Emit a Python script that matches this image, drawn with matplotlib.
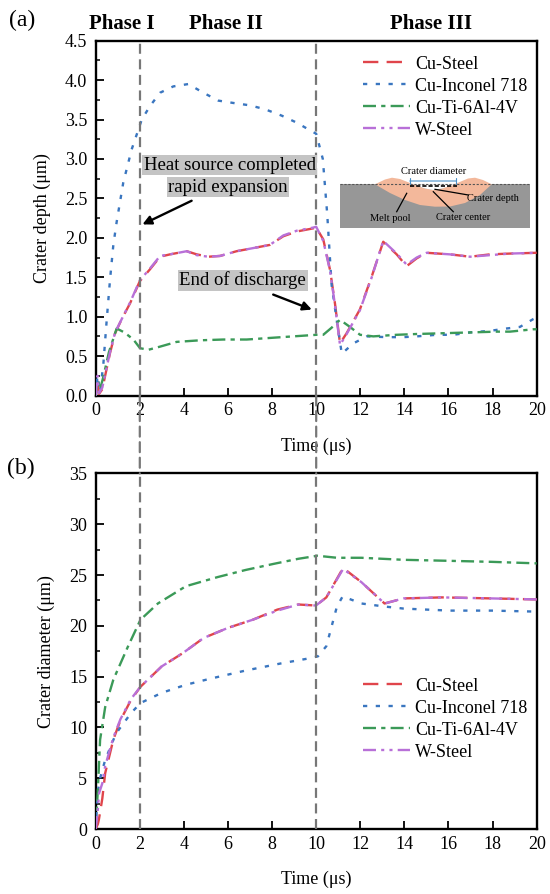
import numpy as np
import matplotlib
matplotlib.use("Agg")
import matplotlib.pyplot as plt
from matplotlib.patches import ConnectionPatch, Rectangle, Polygon
from matplotlib.ticker import MultipleLocator

plt.rcParams['font.family'] = ['Liberation Serif', 'DejaVu Serif']

# ---- (a) crater depth (um) ----
cs_t = [0, 0.08, 0.15, 0.3, 0.42, 0.65, 0.88, 1.2, 1.56, 2.0, 2.46, 2.92, 3.37, 4.13, 4.58, 5.11,
        5.64, 6.39, 7.15, 7.9, 8.51, 9.12, 9.87, 10.0, 10.32, 10.63, 10.85, 11.08, 11.38, 11.98,
        12.52, 13.04, 13.65, 14.1, 14.56, 15.01, 16.07, 16.98, 17.88, 18.79, 20.0]
cs_depth = [0, 0.22, 0.02, 0.08, 0.24, 0.54, 0.79, 0.98, 1.17, 1.45, 1.6, 1.76, 1.79, 1.83, 1.79,
            1.76, 1.77, 1.83, 1.87, 1.91, 2.02, 2.08, 2.12, 2.13, 1.98, 1.59, 1.17, 0.66, 0.79,
            1.09, 1.51, 1.95, 1.79, 1.64, 1.74, 1.81, 1.79, 1.76, 1.79, 1.80, 1.81]
ws_depth = [0, 0.25, 0.03, 0.1, 0.26, 0.55, 0.8, 0.98, 1.18, 1.46, 1.61, 1.77, 1.79, 1.83, 1.78,
            1.76, 1.77, 1.83, 1.87, 1.91, 2.03, 2.09, 2.13, 2.14, 1.96, 1.58, 1.15, 0.64, 0.78,
            1.08, 1.5, 1.96, 1.8, 1.66, 1.75, 1.81, 1.79, 1.76, 1.78, 1.80, 1.81]

ci_t = [0, 0.08, 0.2, 0.35, 0.5, 0.65, 0.8, 0.95, 1.25, 1.63, 1.86, 2.09, 2.46, 2.92, 3.52, 4.2,
        4.88, 5.56, 6.24, 6.99, 7.68, 8.43, 9.12, 9.8, 10.0, 10.3, 10.5, 10.7, 10.93, 11.16,
        11.68, 12.29, 13.2, 13.95, 14.56, 15.47, 16.22, 16.98, 17.88, 18.64, 19.24, 19.85, 20.0]
ci_depth = [0, 0.25, 0.05, 0.41, 0.96, 1.47, 1.91, 2.2, 2.7, 3.12, 3.31, 3.5, 3.67, 3.84, 3.92,
            3.95, 3.84, 3.74, 3.71, 3.68, 3.63, 3.55, 3.46, 3.35, 3.32, 3.0, 2.3, 1.4, 0.96, 0.53,
            0.66, 0.75, 0.74, 0.74, 0.75, 0.77, 0.77, 0.80, 0.82, 0.85, 0.87, 0.97, 0.99]

ct_t = [0, 0.08, 0.2, 0.35, 0.6, 0.95, 1.3, 1.71, 2.01, 2.39, 2.92, 3.67, 4.73, 5.79, 6.85, 7.9,
        8.96, 10.02, 10.32, 10.7, 11.08, 11.53, 11.99, 12.59, 13.65, 14.56, 15.77, 16.98, 18.19,
        18.79, 19.85, 20.0]
ct_depth = [0, 0.2, 0.08, 0.24, 0.55, 0.85, 0.80, 0.71, 0.60, 0.58, 0.62, 0.68, 0.70, 0.71, 0.71,
            0.73, 0.75, 0.77, 0.77, 0.86, 0.96, 0.87, 0.77, 0.75, 0.77, 0.78, 0.79, 0.80, 0.81,
            0.81, 0.84, 0.84]

# ---- (b) crater diameter (um) ----
cs_tb = [0, 0.1, 0.15, 0.3, 0.43, 0.8, 1.12, 1.6, 2.03, 2.99, 3.94, 4.89, 6.0, 7.12, 8.24, 9.19,
         9.99, 10.46, 11.22, 12.05, 13.1, 13.96, 15.7, 17.95, 20]
cs_diam = [0, 0.5, 1.0, 3.0, 5.5, 8.8, 10.7, 12.7, 14.0, 16.0, 17.3, 18.8, 19.8, 20.6, 21.6, 22.1,
           22.0, 22.8, 25.7, 24.3, 22.2, 22.7, 22.8, 22.7, 22.6]
ws_diam = [0, 2.0, 3.5, 4.5, 6.2, 9.0, 10.8, 12.8, 14.0, 16.0, 17.3, 18.8, 19.8, 20.6, 21.5, 22.1,
           22.0, 22.8, 25.6, 24.3, 22.2, 22.7, 22.8, 22.7, 22.6]

ci_tb = [0, 0.08, 0.2, 0.43, 0.92, 1.6, 2.03, 2.99, 4.09, 5.2, 6.8, 8.4, 9.68, 10.08, 10.46, 10.94,
         11.2, 12.05, 13.1, 13.96, 16.04, 17.95, 20]
ci_diam = [0, 3.5, 5.0, 6.8, 9.4, 11.4, 12.4, 13.4, 14.2, 14.8, 15.6, 16.3, 16.8, 17.0, 18.0, 21.9,
           22.9, 22.2, 21.9, 21.7, 21.5, 21.5, 21.4]

ct_tb = [0, 0.1, 0.2, 0.43, 0.8, 1.45, 2.03, 2.82, 4.09, 5.53, 6.8, 8.07, 9.19, 10.06, 10.94,
         12.05, 13.96, 16.04, 17.95, 20]
ct_diam = [0, 4.0, 8.8, 12.0, 14.7, 17.9, 20.6, 22.2, 23.9, 24.8, 25.5, 26.1, 26.6, 26.9, 26.7,
           26.7, 26.5, 26.4, 26.3, 26.15]

labels = ['Cu-Steel', 'Cu-Inconel 718', 'Cu-Ti-6Al-4V', 'W-Steel']
colors = ['#e0454b', '#3a76c0', '#3b9a58', '#b870d8']
dashes = [(6.5, 3.5), (1.8, 3.6), (5.5, 2.2, 1.8, 2.2), (5.5, 2.2, 1.3, 2.2, 1.3, 2.2)]
phase_x = [1.18, 5.9, 15.2]
phase_names = ['Phase I', 'Phase II', 'Phase III']

fig = plt.figure(figsize=(5.5, 8.94), dpi=100)
ax_a = fig.add_axes([0.174, 0.5576, 0.8018, 0.3969])
ax_b = fig.add_axes([0.174, 0.0727, 0.8018, 0.3977])

series_a = [(cs_t, cs_depth), (ci_t, ci_depth), (ct_t, ct_depth), (cs_t, ws_depth)]
series_b = [(cs_tb, cs_diam), (ci_tb, ci_diam), (ct_tb, ct_diam), (cs_tb, ws_diam)]
for ax, series in [(ax_a, series_a), (ax_b, series_b)]:
    for i in range(4):
        t, v = series[i]
        ax.plot(t, v, color=colors[i], lw=1.7, dashes=dashes[i], label=labels[i], zorder=3)

for ax in [ax_a, ax_b]:
    ax.set_xlim(0, 20)
    ax.xaxis.set_major_locator(MultipleLocator(2))
    ax.tick_params(direction='in', length=5.5, width=1.3, labelsize=13, pad=5)
    ax.tick_params(axis='y', which='minor', direction='in', length=3, width=1.1)
    ax.tick_params(axis='y', pad=6)
    for sp in ax.spines.values():
        sp.set_linewidth(1.7)
    ax.set_xlabel('Time (μs)', fontsize=13, labelpad=13)
    for x0 in [2, 10]:
        ax.axvline(x0, color='#777777', lw=1.6, dashes=(4.5, 2.5), zorder=4)
    ax.legend(loc='upper left', bbox_to_anchor=(0.606, 0.958 if ax is ax_a else 0.426),
              frameon=False, fontsize=13, handlelength=2.6, handletextpad=0.3,
              labelspacing=0.28, borderpad=0, borderaxespad=0)

ax_a.set_ylim(0, 4.5)
ax_a.yaxis.set_major_locator(MultipleLocator(0.5))
ax_a.yaxis.set_minor_locator(MultipleLocator(0.25))
ax_a.yaxis.set_major_formatter(plt.FormatStrFormatter('%.1f'))
ax_a.set_ylabel('Crater depth (μm)', fontsize=13, labelpad=10)

ax_b.set_ylim(0, 35)
ax_b.yaxis.set_major_locator(MultipleLocator(5))
ax_b.yaxis.set_minor_locator(MultipleLocator(2.5))
ax_b.set_ylabel('Crater diameter (μm)', fontsize=13, labelpad=10)

# dashed phase lines crossing the gap between the panels
for x0 in [2, 10]:
    con = ConnectionPatch(xyA=(x0, 0), coordsA=ax_a.transData, xyB=(x0, 35), coordsB=ax_b.transData,
                          color='#777777', lw=1.6, linestyle=(0, (4.5, 2.5)), zorder=10)
    fig.add_artist(con)

for px, name in zip(phase_x, phase_names):
    ax_a.text(px, 1.047, name, transform=ax_a.get_xaxis_transform(), ha='center', va='center',
              fontsize=15, fontweight='bold')

fig.text(0.04, 0.977, '(a)', fontsize=17, ha='center', va='center')
fig.text(0.038, 0.4765, '(b)', fontsize=17, ha='center', va='center')

# annotations
box = dict(boxstyle='square,pad=0.08', facecolor='#c4c4c4', edgecolor='none')
ax_a.text(6.07, 2.92, 'Heat source completed', fontsize=13.5, ha='center', va='center', bbox=box, zorder=6)
ax_a.text(6.0, 2.64, 'rapid expansion', fontsize=13.5, ha='center', va='center', bbox=box, zorder=6)
ax_a.text(6.67, 1.46, 'End of discharge', fontsize=13.5, ha='center', va='center', bbox=box, zorder=6)
arrow = dict(arrowstyle='-|>', color='black', lw=1.7, mutation_scale=13, shrinkA=0, shrinkB=0)
ax_a.annotate('', xy=(2.12, 2.17), xytext=(4.35, 2.47), arrowprops=arrow, zorder=6)
ax_a.annotate('', xy=(9.8, 1.09), xytext=(8.05, 1.28), arrowprops=arrow, zorder=6)

# schematic inset (pixel-like local coordinates)
ins = fig.add_axes([340 / 550, 1 - 230 / 894, 190 / 550, 62 / 894])
ins.set_xlim(0, 190)
ins.set_ylim(62, 0)
ins.axis('off')
ins.add_patch(Rectangle((0, 16.3), 190, 44, facecolor='#979797', edgecolor='none'))
pool = [(35, 16.3), (45, 11.5), (52, 9.7), (60, 11), (75, 17), (85, 20.5), (93.3, 22), (102, 20.5),
        (115, 16), (128, 10.5), (135, 9.7), (143, 12), (151.7, 16.3), (140, 27), (125, 35),
        (110, 38.5), (95, 38.7), (80, 37), (65, 32), (50, 25)]
ins.add_patch(Polygon(pool, closed=True, facecolor='#f3b89b', edgecolor='none'))
crater = [(73, 16.3), (85, 20.5), (93.3, 22), (102, 20.5), (116, 16.3)]
ins.add_patch(Polygon(crater, closed=True, facecolor='white', edgecolor='none'))
ins.plot([0, 190], [16.3, 16.3], color='#555555', lw=0.8, dashes=(2, 1.5))
ins.plot([70, 117], [17.7, 17.7], color='black', lw=1.2, dashes=(2.5, 1.2))
ins.annotate('', xy=(67, 13), xytext=(119, 13),
             arrowprops=dict(arrowstyle='|-|', color='#4a90c8', lw=0.8, mutation_scale=2))
ins.text(93.3, 3.7, 'Crater diameter', fontsize=7.5, ha='center', va='center')
ins.text(153.3, 30.3, 'Crater depth', fontsize=7.5, ha='center', va='center')
ins.text(50, 50.3, 'Melt pool', fontsize=7.5, ha='center', va='center')
ins.text(123.3, 49.7, 'Crater center', fontsize=7.5, ha='center', va='center')
ins.plot([56.7, 66.7], [43.7, 25.3], color='black', lw=0.9)
ins.plot([113.3, 93.3], [43.7, 23.7], color='black', lw=0.9)
ins.plot([128.3, 95], [27, 21.3], color='black', lw=0.9)

fig.savefig('out.png', dpi=100)
